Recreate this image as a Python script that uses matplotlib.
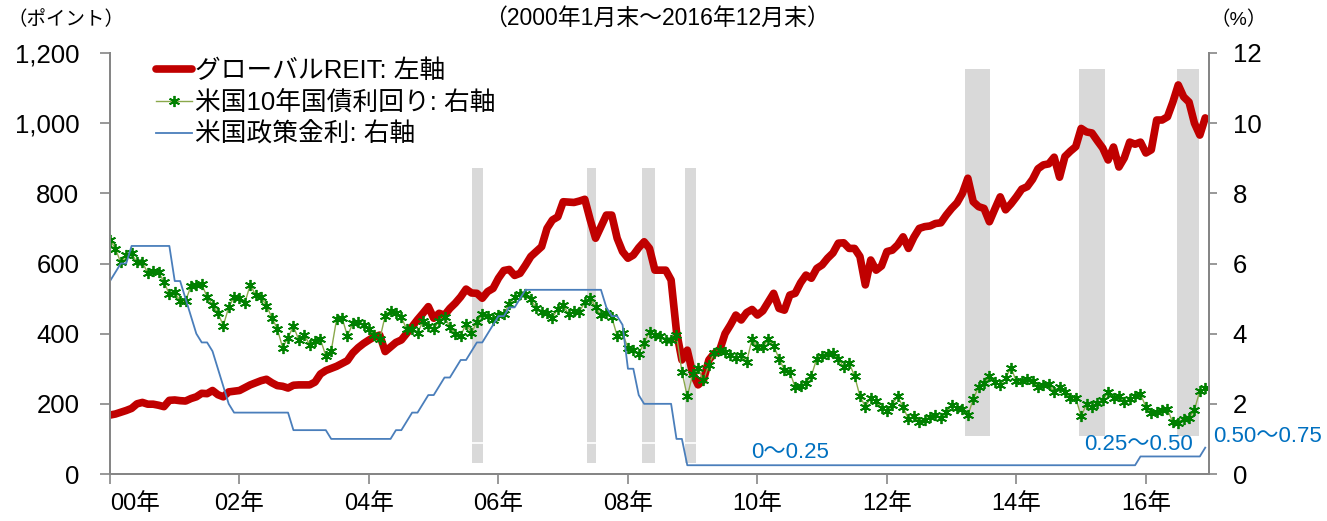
#!/usr/bin/env python3
"""
plot.py — global REIT index vs US 10y yield and policy rate, monthly, 2000-01 .. 2016-12.

Left axis: REIT index (points), right axis: rates (%).
Grey bands mark periods of REIT weakness.
"""
import numpy as np
import matplotlib
matplotlib.use("Agg")
import matplotlib.pyplot as plt

plt.rcParams["font.family"] = ["Liberation Sans", "Noto Sans CJK JP"]

# month-end values, one row per year (2000 .. 2016)
reit = [
    168, 171, 176, 181, 187, 200, 204, 199, 199, 196, 192, 210,
    211, 209, 208, 215, 220, 230, 229, 238, 226, 220, 234, 236,
    238, 246, 254, 260, 266, 270, 260, 252, 250, 245, 253, 254,
    254, 254, 262, 285, 295, 301, 307, 315, 323, 345, 360, 372,
    382, 391, 396, 349, 362, 375, 382, 401, 420, 440, 458, 477,
    444, 458, 453, 472, 487, 505, 527, 516, 515, 501, 520, 529,
    558, 580, 583, 566, 572, 595, 620, 634, 648, 700, 724, 733,
    776, 775, 774, 778, 783, 725, 672, 705, 738, 738, 672, 634,
    615, 624, 645, 662, 643, 581, 581, 581, 553, 406, 325, 353,
    287, 254, 268, 325, 344, 353, 400, 425, 453, 439, 460, 469,
    453, 465, 490, 515, 472, 467, 510, 515, 545, 567, 558, 586,
    596, 615, 630, 658, 659, 643, 643, 620, 539, 610, 581, 593,
    634, 638, 653, 676, 643, 675, 700, 705, 707, 714, 716, 738,
    757, 773, 800, 843, 776, 762, 757, 719, 755, 790, 753, 770,
    790, 812, 819, 840, 870, 881, 884, 903, 846, 905, 920, 933,
    985, 975, 972, 950, 929, 895, 932, 875, 901, 946, 940, 946,
    915, 924, 1009, 1009, 1018, 1060, 1109, 1075, 1060, 1000, 966, 1015,
]

ust10y = [
    6.68, 6.42, 6.03, 6.23, 6.29, 6.03, 6.03, 5.73, 5.80, 5.76, 5.48, 5.12,
    5.19, 4.92, 4.93, 5.35, 5.38, 5.41, 5.05, 4.83, 4.59, 4.23, 4.75, 5.05,
    5.03, 4.88, 5.40, 5.09, 5.04, 4.80, 4.46, 4.14, 3.60, 3.89, 4.21, 3.82,
    3.96, 3.69, 3.80, 3.84, 3.37, 3.51, 4.41, 4.46, 3.94, 4.29, 4.33, 4.25,
    4.13, 3.97, 3.84, 4.51, 4.65, 4.58, 4.47, 4.12, 4.12, 4.02, 4.35, 4.22,
    4.13, 4.36, 4.48, 4.20, 3.98, 3.94, 4.28, 4.02, 4.33, 4.56, 4.49, 4.39,
    4.52, 4.55, 4.85, 5.05, 5.12, 5.14, 4.98, 4.73, 4.63, 4.60, 4.46, 4.70,
    4.82, 4.55, 4.64, 4.63, 4.89, 5.02, 4.76, 4.53, 4.58, 4.47, 3.94, 4.02,
    3.59, 3.53, 3.43, 3.73, 4.06, 3.97, 3.94, 3.81, 3.83, 3.96, 2.92, 2.21,
    2.84, 3.02, 2.67, 3.12, 3.46, 3.53, 3.48, 3.40, 3.31, 3.38, 3.20, 3.84,
    3.61, 3.61, 3.84, 3.66, 3.29, 2.97, 2.91, 2.47, 2.51, 2.60, 2.80, 3.29,
    3.37, 3.42, 3.45, 3.29, 3.05, 3.16, 2.80, 2.22, 1.92, 2.17, 2.07, 1.88,
    1.80, 1.98, 2.21, 1.91, 1.56, 1.64, 1.47, 1.55, 1.63, 1.69, 1.61, 1.76,
    1.98, 1.87, 1.85, 1.67, 2.13, 2.49, 2.58, 2.78, 2.61, 2.55, 2.74, 3.03,
    2.64, 2.65, 2.72, 2.65, 2.47, 2.53, 2.56, 2.34, 2.49, 2.34, 2.16, 2.17,
    1.64, 1.99, 1.92, 2.03, 2.10, 2.33, 2.18, 2.21, 2.04, 2.14, 2.21, 2.27,
    1.92, 1.73, 1.77, 1.83, 1.84, 1.47, 1.45, 1.58, 1.59, 1.83, 2.37, 2.44,
]

fed_funds = (
    [5.5, 5.75, 6.0, 6.0] + [6.5] * 8
    + [5.5, 5.5, 5.0, 4.5, 4.0, 3.75, 3.75, 3.5, 3.0, 2.5, 2.0, 1.75]
    + [1.75] * 10 + [1.25] * 2
    + [1.25] * 5 + [1.0] * 7
    + [1.0] * 5 + [1.25, 1.25, 1.5, 1.75, 1.75, 2.0, 2.25]
    + [2.25, 2.5, 2.75, 2.75, 3.0, 3.25, 3.25, 3.5, 3.75, 3.75, 4.0, 4.25]
    + [4.5, 4.5, 4.75, 4.75, 5.0] + [5.25] * 7
    + [5.25] * 8 + [4.75, 4.5, 4.5, 4.25]
    + [3.0, 3.0, 2.25] + [2.0] * 6 + [1.0, 1.0, 0.25]
    + [0.25] * 72
    + [0.25] * 11 + [0.5]
    + [0.5] * 11 + [0.75]
)

# shaded periods, in month index (0 = Jan 2000), with their vertical extent (points)
band_start = [67.1, 88.4, 98.6, 106.6, 158.5, 179.6, 197.8]
band_end = [69.1, 90.1, 101.0, 108.6, 163.1, 184.4, 201.9]
band_low = [31, 31, 31, 31, 108, 108, 108]
band_high = [872, 872, 872, 872, 1154, 1154, 1154]

year_ticks = list(range(0, 204, 24))
year_labels = ["00年", "02年", "04年", "06年", "08年", "10年", "12年", "14年", "16年"]

rate_notes = ["0～0.25", "0.25～0.50", "0.50～0.75"]
rate_note_x = [126.0, 190.7, 204.5]
rate_note_y = [0.62, 0.84, 1.06]
rate_note_ha = ["center", "center", "left"]

RED = "#C00000"
GREEN = "#008000"
OLIVE = "#8AA84B"
BLUE = "#4A7EBB"
NOTE_BLUE = "#0070C0"
SPINE = "#868686"
FS = 18.5

months = np.arange(len(reit))

fig = plt.figure(figsize=(13.27, 5.21), dpi=100)
ax = fig.add_axes([110 / 1327, 1 - 474 / 521, 1099 / 1327, 421 / 521])
ax2 = ax.twinx()

for x0, x1, lo, hi in zip(band_start, band_end, band_low, band_high):
    ax.fill_between([x0, x1], lo, hi, color="#D9D9D9", lw=0, zorder=1)
ax.axhline(88, color="white", lw=1.2, zorder=1.5)

h_reit, = ax.plot(months, reit, color=RED, lw=5.5, solid_joinstyle="round",
                  solid_capstyle="round", zorder=3, label="グローバルREIT: 左軸")
h_10y, = ax2.plot(months, ust10y, color=OLIVE, lw=1.0, marker=(6, 2, 0), ms=8,
                  mec=GREEN, mfc=GREEN, mew=1.3, label="米国10年国債利回り: 右軸")
h_ff, = ax2.plot(months, fed_funds, color=BLUE, lw=1.3, label="米国政策金利: 右軸")

ax.set_xlim(0, 203.7)
ax.set_ylim(0, 1200)
ax2.set_ylim(0, 12)
ax.set_yticks(range(0, 1201, 200))
ax.set_yticklabels([f"{v:,}" for v in range(0, 1201, 200)])
ax2.set_yticks(range(0, 13, 2))
ax.set_xticks(year_ticks)
ax.set_xticklabels(year_labels)
ax.get_xticklabels()[0].set_horizontalalignment("left")

for a in (ax, ax2):
    a.spines["top"].set_visible(False)
    for side in ("left", "right", "bottom"):
        a.spines[side].set_color(SPINE)
        a.spines[side].set_linewidth(1.4)
ax.tick_params(axis="y", length=7, width=1.2, color=SPINE, pad=15, labelsize=FS)
ax.tick_params(axis="x", length=7, width=1.2, color=SPINE, pad=7, labelsize=17)
ax2.tick_params(axis="y", length=6, width=1.2, color=SPINE, pad=11, labelsize=FS)

for txt, x, y, ha in zip(rate_notes, rate_note_x, rate_note_y, rate_note_ha):
    ax2.text(x, y, txt, color=NOTE_BLUE, fontsize=16, ha=ha, va="center", clip_on=False)

fig.legend(handles=[h_reit, h_10y, h_ff], loc="upper left",
           bbox_to_anchor=(156 / 1327, 1 - 59 / 521), frameon=False, fontsize=FS,
           borderpad=0, borderaxespad=0, handlelength=1.4, handletextpad=0.1,
           labelspacing=0.3)

fig.text(0.495, 1 - 18 / 521, "（2000年1月末～2016年12月末）", ha="center", va="center", fontsize=16.5)
fig.text(0.006, 1 - 20 / 521, "（ポイント）", ha="left", va="center", fontsize=14)
fig.text(1211 / 1327, 1 - 20 / 521, "（%）", ha="left", va="center", fontsize=14)

fig.savefig("out.png", dpi=100)
